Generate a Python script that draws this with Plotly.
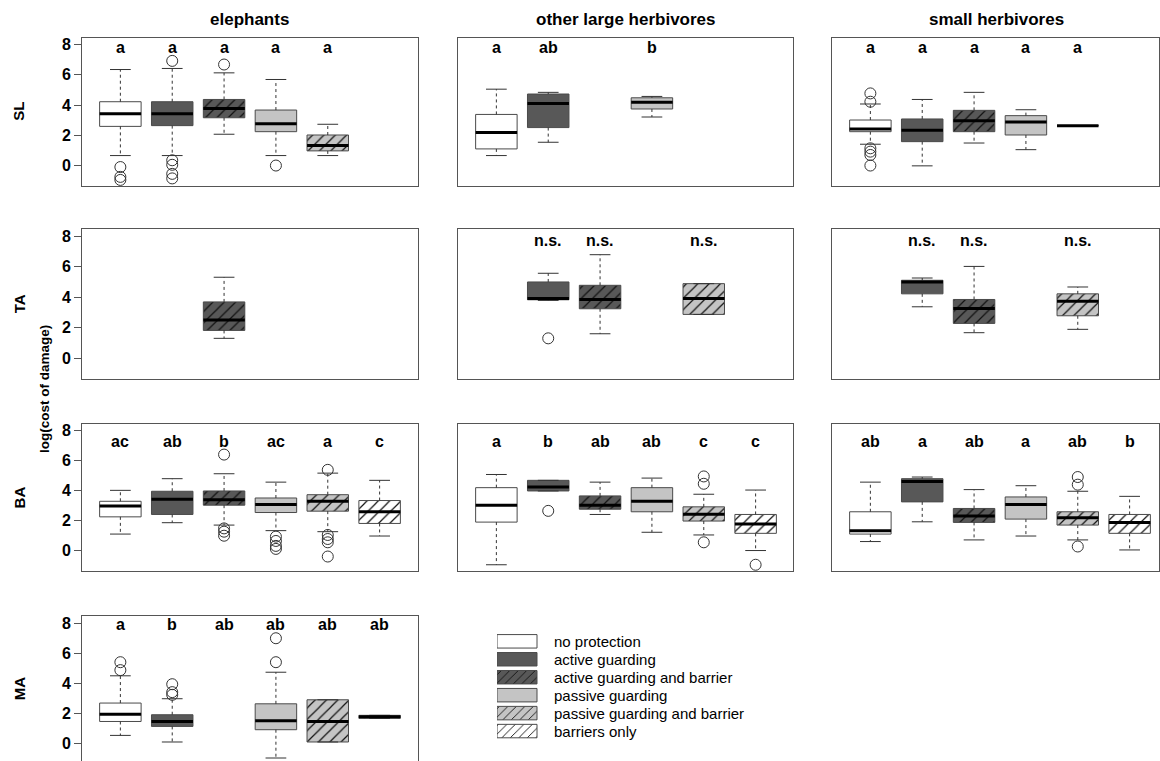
import plotly.graph_objects as go

W, H = 1160, 761
FONT = "Liberation Sans"

GROUP_NAMES = ["no protection", "active guarding", "active guarding and barrier",
               "passive guarding", "passive guarding and barrier", "barriers only"]
GROUP_FILL = ["#ffffff", "#585858", "#585858", "#c4c4c4", "#c4c4c4", "#ffffff"]
GROUP_HATCH = ["", "", "/", "", "/", "/"]
COL_TITLES = ["elephants", "other large herbivores", "small herbivores"]
ROW_LABELS = ["SL", "TA", "BA", "MA"]
Y_TICKS = [0, 2, 4, 6, 8]
Y_AXIS_TITLE = "log(cost of damage)"

# ---------------- SL ----------------
sl_ele_grp = [1, 2, 3, 4, 5]
sl_ele_low = [0.66, 0.66, 2.07, 0.66, 0.66]
sl_ele_q1 = [2.59, 2.64, 3.16, 2.24, 0.97]
sl_ele_med = [3.43, 3.43, 3.78, 2.77, 1.32]
sl_ele_q3 = [4.22, 4.22, 4.37, 3.67, 2.02]
sl_ele_high = [6.35, 6.42, 6.13, 5.69, 2.73]
sl_ele_out_grp = [1, 1, 1, 2, 2, 2, 2, 2, 3, 4]
sl_ele_out_val = [-0.1, -0.75, -0.95, 6.92, 0.35, 0.05, -0.55, -0.85, 6.68, 0.0]
sl_ele_letters = ["a", "a", "a", "a", "a", ""]

sl_olh_grp = [1, 2, 4]
sl_olh_low = [0.66, 1.54, 3.21]
sl_olh_q1 = [1.10, 2.51, 3.74]
sl_olh_med = [2.18, 4.11, 4.18]
sl_olh_q3 = [3.38, 4.73, 4.48]
sl_olh_high = [5.05, 4.84, 4.57]
sl_olh_out_grp = []
sl_olh_out_val = []
sl_olh_letters = ["a", "ab", "", "b", "", ""]

sl_sh_grp = [1, 2, 3, 4, 5]
sl_sh_low = [1.41, -0.02, 1.49, 1.05, 2.64]
sl_sh_q1 = [2.24, 1.58, 2.24, 2.02, 2.64]
sl_sh_med = [2.42, 2.33, 2.97, 2.88, 2.64]
sl_sh_q3 = [3.01, 3.08, 3.65, 3.30, 2.64]
sl_sh_high = [4.07, 4.37, 4.84, 3.69, 2.64]
sl_sh_out_grp = [1, 1, 1, 1, 1, 1]
sl_sh_out_val = [4.77, 4.22, 1.14, 0.92, 0.70, 0.0]
sl_sh_letters = ["a", "a", "a", "a", "a", ""]

# ---------------- TA ----------------
ta_ele_grp = [3]
ta_ele_low = [1.31]
ta_ele_q1 = [1.83]
ta_ele_med = [2.51]
ta_ele_q3 = [3.70]
ta_ele_high = [5.32]
ta_ele_out_grp = []
ta_ele_out_val = []
ta_ele_letters = ["", "", "", "", "", ""]

ta_olh_grp = [2, 3, 5]
ta_olh_low = [3.80, 1.61, 2.88]
ta_olh_q1 = [3.84, 3.25, 2.88]
ta_olh_med = [3.92, 3.86, 3.92]
ta_olh_q3 = [5.01, 4.79, 4.90]
ta_olh_high = [5.58, 6.80, 4.90]
ta_olh_out_grp = [2]
ta_olh_out_val = [1.31]
ta_olh_letters = ["", "n.s.", "n.s.", "", "n.s.", ""]

ta_sh_grp = [2, 3, 5]
ta_sh_low = [3.38, 1.68, 1.90]
ta_sh_q1 = [4.23, 2.29, 2.79]
ta_sh_med = [5.01, 3.27, 3.75]
ta_sh_q3 = [5.12, 3.86, 4.23]
ta_sh_high = [5.27, 6.03, 4.68]
ta_sh_out_grp = []
ta_sh_out_val = []
ta_sh_letters = ["", "n.s.", "n.s.", "", "n.s.", ""]

# ---------------- BA ----------------
ba_ele_grp = [1, 2, 3, 4, 5, 6]
ba_ele_low = [1.10, 1.86, 1.70, 1.33, 1.26, 0.97]
ba_ele_q1 = [2.25, 2.41, 3.03, 2.54, 2.63, 1.81]
ba_ele_med = [2.98, 3.43, 3.40, 3.07, 3.29, 2.59]
ba_ele_q3 = [3.29, 3.96, 3.98, 3.51, 3.73, 3.34]
ba_ele_high = [4.02, 4.80, 5.13, 4.57, 5.17, 4.69]
ba_ele_out_grp = [3, 3, 3, 3, 4, 4, 4, 4, 5, 5, 5, 5, 5]
ba_ele_out_val = [6.41, 1.48, 1.26, 0.99, 0.93, 0.64, 0.31, 0.11, 5.39, 1.04, 0.77, 0.55, -0.40]
ba_ele_letters = ["ac", "ab", "b", "ac", "a", "c"]

ba_olh_grp = [1, 2, 3, 4, 5, 6]
ba_olh_low = [-0.95, 3.98, 2.41, 1.22, 1.04, 0.0]
ba_olh_q1 = [1.90, 3.98, 2.76, 2.59, 1.97, 1.15]
ba_olh_med = [3.03, 4.24, 3.03, 3.29, 2.43, 1.77]
ba_olh_q3 = [4.20, 4.69, 3.65, 4.20, 2.92, 2.41]
ba_olh_high = [5.08, 4.69, 4.57, 4.84, 3.76, 4.04]
ba_olh_out_grp = [2, 5, 5, 5, 6]
ba_olh_out_val = [2.65, 4.95, 4.46, 0.55, -0.95]
ba_olh_letters = ["a", "b", "ab", "ab", "c", "c"]

ba_sh_grp = [1, 2, 3, 4, 5, 6]
ba_sh_low = [0.60, 1.92, 0.71, 0.97, 0.71, 0.04]
ba_sh_q1 = [1.10, 3.25, 1.88, 2.10, 1.70, 1.15]
ba_sh_med = [1.33, 4.62, 2.30, 3.07, 2.19, 1.88]
ba_sh_q3 = [2.59, 4.80, 2.81, 3.58, 2.59, 2.41]
ba_sh_high = [4.57, 4.91, 4.07, 4.33, 3.96, 3.62]
ba_sh_out_grp = [5, 5, 5]
ba_sh_out_val = [4.91, 4.40, 0.27]
ba_sh_letters = ["ab", "a", "ab", "a", "ab", "b"]

# ---------------- MA ----------------
ma_ele_grp = [1, 2, 4, 5, 6]
ma_ele_low = [0.51, 0.07, -1.0, 0.07, 1.65]
ma_ele_q1 = [1.44, 1.11, 0.89, 0.07, 1.65]
ma_ele_med = [1.93, 1.44, 1.49, 1.44, 1.75]
ma_ele_q3 = [2.67, 1.89, 2.62, 2.89, 1.85]
ma_ele_high = [4.49, 2.96, 4.73, 2.89, 1.85]
ma_ele_out_grp = [1, 1, 2, 2, 2, 4, 4]
ma_ele_out_val = [5.40, 4.87, 3.93, 3.40, 3.22, 7.0, 5.40]
ma_ele_letters = ["a", "b", "ab", "ab", "ab", "ab"]

PANELS = [
    (0, 0, sl_ele_grp, sl_ele_low, sl_ele_q1, sl_ele_med, sl_ele_q3, sl_ele_high, sl_ele_out_grp, sl_ele_out_val, sl_ele_letters),
    (0, 1, sl_olh_grp, sl_olh_low, sl_olh_q1, sl_olh_med, sl_olh_q3, sl_olh_high, sl_olh_out_grp, sl_olh_out_val, sl_olh_letters),
    (0, 2, sl_sh_grp, sl_sh_low, sl_sh_q1, sl_sh_med, sl_sh_q3, sl_sh_high, sl_sh_out_grp, sl_sh_out_val, sl_sh_letters),
    (1, 0, ta_ele_grp, ta_ele_low, ta_ele_q1, ta_ele_med, ta_ele_q3, ta_ele_high, ta_ele_out_grp, ta_ele_out_val, ta_ele_letters),
    (1, 1, ta_olh_grp, ta_olh_low, ta_olh_q1, ta_olh_med, ta_olh_q3, ta_olh_high, ta_olh_out_grp, ta_olh_out_val, ta_olh_letters),
    (1, 2, ta_sh_grp, ta_sh_low, ta_sh_q1, ta_sh_med, ta_sh_q3, ta_sh_high, ta_sh_out_grp, ta_sh_out_val, ta_sh_letters),
    (2, 0, ba_ele_grp, ba_ele_low, ba_ele_q1, ba_ele_med, ba_ele_q3, ba_ele_high, ba_ele_out_grp, ba_ele_out_val, ba_ele_letters),
    (2, 1, ba_olh_grp, ba_olh_low, ba_olh_q1, ba_olh_med, ba_olh_q3, ba_olh_high, ba_olh_out_grp, ba_olh_out_val, ba_olh_letters),
    (2, 2, ba_sh_grp, ba_sh_low, ba_sh_q1, ba_sh_med, ba_sh_q3, ba_sh_high, ba_sh_out_grp, ba_sh_out_val, ba_sh_letters),
    (3, 0, ma_ele_grp, ma_ele_low, ma_ele_q1, ma_ele_med, ma_ele_q3, ma_ele_high, ma_ele_out_grp, ma_ele_out_val, ma_ele_letters),
]

# ---------------- layout geometry (pixels) ----------------
COL_PX = [(82, 418), (458, 793), (832, 1159)]
ROW_PX = [(35.7, 184.6), (228, 378), (423, 570.4), (616, 761)]
Y_RANGES = [(-1.36, 8.46), (-1.36, 8.46), (-1.36, 8.46), (-1.2, 8.46)]
X_UNIT = 51.85
LETTER_Y = [7.8, 7.7, 7.3, 7.9]
FRAME = "#555555"
EDGE = "#4a4a4a"
WHISK = "#333333"
HATCH = "#111111"
BOX_W = 0.8
CAP_HALF = 0.2


def box_marker(style, size=8):
    m = dict(color=GROUP_FILL[style], line=dict(color=EDGE, width=1))
    if GROUP_HATCH[style]:
        m["pattern"] = dict(shape=GROUP_HATCH[style], fgcolor=HATCH, fgopacity=1,
                            size=size, solidity=0.15, fillmode="overlay")
    return m


fig = go.Figure()
axes = {}
annotations = []

for k, (r, c, grp, low, q1, med, q3, high, og, ov, letters) in enumerate(PANELS):
    n = k + 1
    s = "" if n == 1 else str(n)
    xref, yref = "x" + s, "y" + s
    x0, x1 = COL_PX[c]
    y0, y1 = ROW_PX[r]
    axes["xaxis" + s] = dict(domain=[x0 / W, x1 / W], range=[0.26, 0.26 + (x1 - x0) / X_UNIT],
                             anchor=yref, showline=True, mirror=True, linecolor=FRAME, linewidth=1,
                             showgrid=False, zeroline=False, showticklabels=False, ticks="")
    yax = dict(domain=[1 - y1 / H, 1 - y0 / H], range=list(Y_RANGES[r]), anchor=xref,
               showline=True, mirror=True, linecolor=FRAME, linewidth=1,
               showgrid=False, zeroline=False)
    if c == 0:
        yax.update(tickvals=Y_TICKS, ticks="outside", ticklen=7, tickwidth=1, tickcolor=FRAME,
                   tickfont=dict(family=FONT, size=16, color="black", weight="bold"),
                   showticklabels=True)
    else:
        yax.update(showticklabels=False, ticks="")
    axes["yaxis" + s] = yax

    wx, wy, cx, cy, mx, my = [], [], [], [], [], []
    for g, lo, a, m, b, hi in zip(grp, low, q1, med, q3, high):
        wx += [g, g, None, g, g, None]
        wy += [b, hi, None, a, lo, None]
        cx += [g - CAP_HALF, g + CAP_HALF, None, g - CAP_HALF, g + CAP_HALF, None]
        cy += [hi, hi, None, lo, lo, None]
        mx += [g - BOX_W / 2, g + BOX_W / 2, None]
        my += [m, m, None]
    fig.add_trace(go.Scatter(x=wx, y=wy, mode="lines", xaxis=xref, yaxis=yref,
                             line=dict(color=WHISK, width=1, dash="3px,3px"),
                             hoverinfo="skip", showlegend=False))
    for g, a, b in zip(grp, q1, q3):
        fig.add_trace(go.Bar(x=[g], y=[b - a], base=[a], width=BOX_W, xaxis=xref, yaxis=yref,
                             marker=box_marker(g - 1), hoverinfo="skip", showlegend=False))
    fig.add_trace(go.Scatter(x=cx, y=cy, mode="lines", xaxis=xref, yaxis=yref,
                             line=dict(color=WHISK, width=1),
                             hoverinfo="skip", showlegend=False))
    fig.add_trace(go.Scatter(x=mx, y=my, mode="lines", xaxis=xref, yaxis=yref,
                             line=dict(color="black", width=3),
                             hoverinfo="skip", showlegend=False))
    if og:
        fig.add_trace(go.Scatter(x=og, y=ov, mode="markers", xaxis=xref, yaxis=yref,
                                 marker=dict(symbol="circle-open", size=11, color=WHISK,
                                             line=dict(width=1)),
                                 hoverinfo="skip", showlegend=False))
    for i, txt in enumerate(letters):
        if txt:
            annotations.append(dict(x=i + 1, y=LETTER_Y[r], xref=xref, yref=yref, text=txt,
                                    showarrow=False, yanchor="middle",
                                    font=dict(family=FONT, size=16, color="black", weight="bold")))

# column titles
for c, t in enumerate(COL_TITLES):
    x0, x1 = COL_PX[c]
    xc = (x0 + 1160) / 2 if c == 2 else (x0 + x1) / 2
    annotations.append(dict(x=xc / W, y=1 - 18 / H, xref="paper", yref="paper", text=t,
                            showarrow=False, xanchor="center", yanchor="middle",
                            font=dict(family=FONT, size=17, color="black", weight="bold")))
# row labels
for r, t in enumerate(ROW_LABELS):
    y0, y1 = ROW_PX[r]
    yc = (y0 + y1) / 2 if r < 3 else 689
    annotations.append(dict(x=19 / W, y=1 - yc / H, xref="paper", yref="paper", text=t,
                            showarrow=False, textangle=-90, xanchor="center", yanchor="middle",
                            font=dict(family=FONT, size=15, color="black", weight="bold")))
annotations.append(dict(x=45 / W, y=1 - 388 / H, xref="paper", yref="paper", text=Y_AXIS_TITLE,
                        showarrow=False, textangle=-90, xanchor="center", yanchor="middle",
                        font=dict(family=FONT, size=13.5, color="black", weight="bold")))

# legend drawn as its own small bar axis
LEG = "11"
leg_pos = list(range(1, len(GROUP_NAMES) + 1))
axes["xaxis" + LEG] = dict(domain=[497 / W, 800 / W], range=[0, 303 / 40], visible=False,
                           anchor="y" + LEG)
axes["yaxis" + LEG] = dict(domain=[1 - 740 / H, 1 - 632 / H], range=[6.5, 0.5], visible=False,
                           anchor="x" + LEG)
for i, p in enumerate(leg_pos):
    fig.add_trace(go.Bar(y=[p], x=[1], base=[0], orientation="h", width=0.75,
                         xaxis="x" + LEG, yaxis="y" + LEG, marker=box_marker(i, size=6),
                         hoverinfo="skip", showlegend=False))
for p, name in zip(leg_pos, GROUP_NAMES):
    annotations.append(dict(x=55 / 40, y=p, xref="x" + LEG, yref="y" + LEG, text=name,
                            showarrow=False, xanchor="left", yanchor="middle",
                            font=dict(family=FONT, size=15, color="black")))

fig.update_layout(width=W, height=H, margin=dict(l=0, r=0, t=0, b=0),
                  paper_bgcolor="white", plot_bgcolor="white", barmode="overlay",
                  showlegend=False, annotations=annotations, **axes)
fig.write_html("out.html", config={"displayModeBar": False},
               post_script="document.body.style.margin='0';document.body.style.overflow='hidden';")
